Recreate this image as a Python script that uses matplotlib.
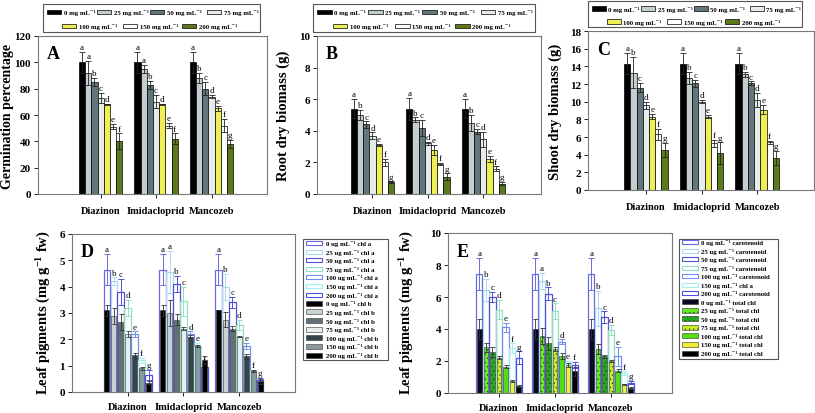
import matplotlib
matplotlib.use('Agg')
import matplotlib.pyplot as plt
import numpy as np
from matplotlib.patches import Rectangle

plt.rcParams['font.family'] = ['Liberation Serif', 'DejaVu Serif']
plt.rcParams['mathtext.fontset'] = 'custom'
plt.rcParams['mathtext.rm'] = 'Liberation Serif:bold'
plt.rcParams['mathtext.it'] = 'Liberation Serif:bold'
plt.rcParams['mathtext.bf'] = 'Liberation Serif:bold'
plt.rcParams['mathtext.default'] = 'rm'
plt.rcParams['hatch.linewidth'] = 0.4

# ---------------- data ----------------
categories = ['Diazinon', 'Imidacloprid', 'Mancozeb']
doses = ['0', '25', '50', '75', '100', '150', '200']

# Panel A: germination percentage (rows: Diazinon, Imidacloprid, Mancozeb)
germ = [[100, 92, 85, 73, 68, 51, 40],
        [100, 95, 83, 70, 68, 52, 42],
        [100, 88, 80, 74, 65, 52, 38]]
germ_err = [[8, 9, 3, 4, 0.5, 2, 6],
            [8, 3, 3, 5, 0.5, 2, 4],
            [8, 4, 5, 1, 2, 5, 3]]
germ_let = [list('aabcdef'), list('aabcdef'), list('abcdefg')]

# Panel B: root dry biomass (g)
root = [[5.4, 5.0, 4.4, 3.7, 3.1, 2.0, 0.75],
        [5.4, 4.7, 4.2, 3.2, 2.8, 1.9, 1.1],
        [5.4, 4.5, 3.95, 3.45, 2.2, 1.6, 0.65]]
root_err = [[0.6, 0.3, 0.2, 0.2, 0.05, 0.2, 0.05],
            [0.7, 0.15, 0.5, 0.1, 0.3, 0.05, 0.2],
            [0.6, 0.5, 0.15, 0.5, 0.2, 0.15, 0.1]]
root_let = [list('abcdefg'), list('abcdefg'), list('abcdefg')]

# Panel C: shoot dry biomass (g)
shoot = [[14.3, 13.3, 11.6, 9.6, 8.3, 6.3, 4.5],
         [14.3, 12.7, 12.1, 10.0, 8.3, 5.3, 4.2],
         [14.3, 13.1, 12.1, 10.2, 9.1, 5.4, 3.6]]
shoot_err = [[1.2, 1.8, 0.5, 0.4, 0.3, 0.6, 0.8],
             [1.2, 0.7, 0.4, 0.2, 0.2, 0.4, 1.2],
             [1.2, 0.3, 0.2, 0.8, 0.5, 0.2, 0.8]]
shoot_let = [list('abcdefg'), list('abcdefg'), list('abcdefg')]

# Panel D: chl a (hollow) and chl b (filled)
chla = [[4.65, 4.2, 3.8, 3.2, 2.2, 1.2, 0.65],
        [4.65, 4.55, 4.1, 3.45, 2.2, 1.75, 0.95],
        [4.65, 4.0, 3.4, 2.55, 1.75, 0.8, 0.45]]
chla_err = [[0.6, 0.15, 0.5, 0.3, 0.1, 0.1, 0.2],
            [0.6, 0.8, 0.3, 0.55, 0.1, 0.1, 0.1],
            [0.6, 0.5, 0.2, 0.2, 0.1, 0.05, 0.1]]
chla_let = [list('abcdefg'), list('aabcdef'), list('abcdefg')]
chlb = [[3.1, 2.9, 2.65, 2.2, 1.4, 0.9, 0.35],
        [3.1, 3.0, 2.75, 2.4, 2.1, 1.75, 1.2],
        [3.1, 2.75, 2.4, 2.1, 1.35, 0.8, 0.4]]
chlb_err = [[0.2, 0.3, 0.3, 0.1, 0.1, 0.05, 0.05],
            [0.2, 0.5, 0.2, 0.05, 0.05, 0.03, 0.15],
            [0.0, 0.3, 0.1, 0.03, 0.1, 0.03, 0.1]]

# Panel E: carotenoid (hollow) and total chl (filled)
carot = [[7.45, 6.45, 6.0, 5.2, 4.1, 2.8, 2.2],
         [7.45, 7.0, 6.2, 5.1, 3.2, 1.9, 1.75],
         [7.45, 5.3, 4.75, 3.95, 2.3, 1.25, 0.65]]
carot_err = [[1.0, 0.7, 0.3, 0.6, 0.3, 0.3, 0.4],
             [1.0, 0.5, 0.4, 0.5, 0.15, 0.1, 0.2],
             [1.0, 1.1, 0.35, 0.3, 0.6, 0.1, 0.1]]
carot_let = [list('abcdefg'), list('aabcdef'), list('abcdefg')]
totchl = [[4.0, 2.85, 2.55, 2.2, 1.65, 0.75, 0.45],
          [4.0, 3.55, 3.1, 2.75, 2.3, 1.75, 1.35],
          [4.0, 2.75, 2.3, 2.0, 1.4, 0.55, 0.3]]
totchl_err = [[0.6, 0.3, 0.3, 0.1, 0.1, 0.05, 0.05],
              [0.6, 0.5, 0.4, 0.1, 0.2, 0.1, 0.3],
              [0.6, 0.3, 0.1, 0.05, 0.1, 0.03, 0.05]]

# ---------------- styles ----------------
abc_colors = ['#000000', '#c4cece', '#62767c', '#e6ecec', '#eeee55', '#ffffff', '#5c7a1c']
hollow_colors = ['#6a6ae0', '#a8d8f0', '#5050d0', '#90e0c0', '#7090f0', '#a0f0f0', '#5050e0']
chlb_colors = ['#000000', '#c8d2d2', '#5f7275', '#e8eeee', '#34464c', '#8a9a9a', '#000000']
tot_colors = ['#0a0a20', '#66ee22', '#22aa22', '#ccee22', '#55dd11', '#eeee33', '#000000']
tot_hatch = [None, '....', '....', '....', None, None, None]

W, H = 815, 414
fig = plt.figure(figsize=(W / 100, H / 100), dpi=100)


def fx(px):
    return px / W


def fy(py):
    return 1 - py / H


def px_axes(l, t, r, b):
    return fig.add_axes([l / W, 1 - b / H, (r - l) / W, (b - t) / H])


def style(ax, ymax, ystep, xlim, ylabel, letter, ylab_xy, xpad=6, ylab_size=10.5):
    ax.set_xlim(*xlim)
    ax.set_ylim(0, ymax)
    ax.set_yticks(np.arange(0, ymax + 0.001, ystep))
    ax.set_xticks([1, 2, 3])
    ax.set_xticklabels(categories, fontweight='bold', fontsize=7.5)
    for t in ax.get_yticklabels():
        t.set_fontweight('bold')
    ax.tick_params(axis='y', direction='out', length=3, width=0.6, labelsize=8, pad=2)
    ax.tick_params(axis='x', direction='out', length=3, width=0.6, pad=xpad)
    for s in ax.spines.values():
        s.set_color('#777777')
        s.set_linewidth(0.8)
    fig.text(fx(ylab_xy[0]), fy(ylab_xy[1]), ylabel, rotation=90, ha='center',
             va='center', fontsize=ylab_size, fontweight='bold')
    ax.text(0.04, 0.94, letter, transform=ax.transAxes, fontsize=13,
            fontweight='bold', va='top', ha='left')


def simple_bars(ax, vals, errs, lets, step, ymax):
    n = len(doses)
    for gi in range(len(categories)):
        for j in range(n):
            x = gi + 1 + (j - (n - 1) / 2) * step
            ax.bar(x, vals[gi][j], width=step, color=abc_colors[j],
                   edgecolor='black', linewidth=0.5, zorder=2)
            ax.errorbar(x, vals[gi][j], yerr=errs[gi][j], fmt='none', ecolor='#222222',
                        elinewidth=0.6, capsize=2, capthick=0.6, zorder=3)
            ax.text(x, vals[gi][j] + errs[gi][j] + ymax * 0.005, lets[gi][j],
                    ha='center', va='bottom', fontsize=6.5, zorder=4)


def overlay_bars(ax, hv, he, hl, fv, fe, fcols, fhatch, step, ymax):
    n = len(doses)
    for gi in range(len(categories)):
        for j in range(n):
            x = gi + 1 + (j - (n - 1) / 2) * step
            ax.bar(x, hv[gi][j], width=step * 0.95, facecolor='none',
                   edgecolor=hollow_colors[j], linewidth=0.9, zorder=2)
            ax.errorbar(x, hv[gi][j], yerr=he[gi][j], fmt='none', ecolor=hollow_colors[j],
                        elinewidth=0.7, capsize=2, capthick=0.7, zorder=2)
            ax.text(x, hv[gi][j] + he[gi][j] + ymax * 0.005, hl[gi][j],
                    ha='center', va='bottom', fontsize=6.5, zorder=4)
            ax.bar(x, fv[gi][j], width=step * 0.7, color=fcols[j], hatch=fhatch[j],
                   edgecolor='#333333', linewidth=0.4, zorder=3)
            ax.errorbar(x, fv[gi][j], yerr=fe[gi][j], fmt='none', ecolor='#333333',
                        elinewidth=0.6, capsize=1.8, capthick=0.6, zorder=3)


def frame_box(l, t, r, b):
    fig.add_artist(Rectangle((fx(l), fy(b)), (r - l) / W, (b - t) / H,
                             transform=fig.transFigure, facecolor='white',
                             edgecolor='#555555', linewidth=0.8))


def handle(x0, y, w, h, fc, ec, lw, hatch=None):
    fig.add_artist(Rectangle((fx(x0), fy(y + h / 2)), w / W, h / H,
                             transform=fig.transFigure, facecolor=fc,
                             edgecolor=ec, linewidth=lw, hatch=hatch))


def abc_legend(l, t, r, b):
    frame_box(l, t, r, b)
    w, h = r - l, b - t
    row_y = [t + 0.29 * h, t + 0.79 * h]
    xfrac = [0.018, 0.249, 0.493, 0.756, 0.088, 0.369, 0.641]
    rows = [0, 0, 0, 0, 1, 1, 1]
    for j in range(len(doses)):
        x0 = l + xfrac[j] * w
        y = row_y[rows[j]]
        hw = 0.066 * w
        handle(x0, y, hw, 4.5, abc_colors[j], 'black', 0.5)
        fig.text(fx(x0 + hw + 2.5), fy(y), f'{doses[j]} mg mL\u207b\u00b9', fontsize=4.9,
                 fontweight='bold', va='center', ha='left')


def list_legend(l, t, r, b, hx0, hx1, tx, y0, y1, specs, labels):
    frame_box(l, t, r, b)
    n = len(labels)
    for i in range(n):
        y = y0 + i * (y1 - y0) / (n - 1)
        fc, ec, lw, hatch, hh = specs[i]
        handle(hx0, y, hx1 - hx0, hh, fc, ec, lw, hatch)
        fig.text(fx(tx), fy(y), labels[i], fontsize=4.9, fontweight='bold',
                 va='center', ha='left')


# ---------------- panel A ----------------
axA = px_axes(38, 37, 267, 195)
simple_bars(axA, germ, germ_err, germ_let, 0.112, 120)
style(axA, 120, 20, (-0.13, 4.0), 'Germination percentage', 'A', (8, 116), ylab_size=10)
abc_legend(43, 5, 260, 33)

# ---------------- panel B ----------------
axB = px_axes(317, 37, 541, 195)
simple_bars(axB, root, root_err, root_let, 0.112, 10)
style(axB, 10, 2, (0.0, 4.04), 'Root dry biomass (g)', 'B', (283, 116))
abc_legend(313, 5, 535, 33)

# ---------------- panel C ----------------
axC = px_axes(588, 32, 814, 191)
simple_bars(axC, shoot, shoot_err, shoot_let, 0.112, 18)
style(axC, 18, 2, (-0.04, 4.02), 'Shoot dry biomass (g)', 'C', (555, 112))
abc_legend(588, 2, 802, 28)

# ---------------- panel D ----------------
axD = px_axes(72, 235, 295, 393)
overlay_bars(axD, chla, chla_err, chla_let, chlb, chlb_err, chlb_colors,
             [None] * 7, 0.125, 6)
style(axD, 6, 1, (0.0, 4.0), 'Leaf pigments (mg g$^{-1}$ fw)', 'D', (44, 313), xpad=4)
specD = [('white', hollow_colors[j], 0.8, None, 4) for j in range(7)] + \
        [(chlb_colors[j], '#333333', 0.4, None, 5) for j in range(7)]
lD = [f'{d} ug mL\u207b\u00b9 chl a' for d in doses] + \
     [f'{d} ug mL\u207b\u00b9 chl b' for d in doses]
list_legend(303, 240, 388, 361, 306, 322, 326, 244, 356, specD, lD)

# ---------------- panel E ----------------
axE = px_axes(448, 234, 672, 394)
overlay_bars(axE, carot, carot_err, carot_let, totchl, totchl_err, tot_colors,
             tot_hatch, 0.117, 10)
style(axE, 10, 2, (0.09, 4.09), 'Leaf pigments (mg g$^{-1}$ fw)', 'E', (407, 313), xpad=4)
specE = [('white', hollow_colors[j], 0.8, None, 4) for j in range(7)] + \
        [(tot_colors[j], '#333333', 0.4, tot_hatch[j], 5) for j in range(7)]
lE = [f'{d} ug mL\u207b\u00b9 carotenoid' for d in doses]
lE[5] = '150 ug mL\u207b\u00b9 chl a'
lE += [f'{d} ug mL\u207b\u00b9 total chl' for d in doses]
list_legend(679, 240, 778, 360, 682, 698, 701, 243, 354, specE, lE)

fig.savefig('out.png', dpi=100)
